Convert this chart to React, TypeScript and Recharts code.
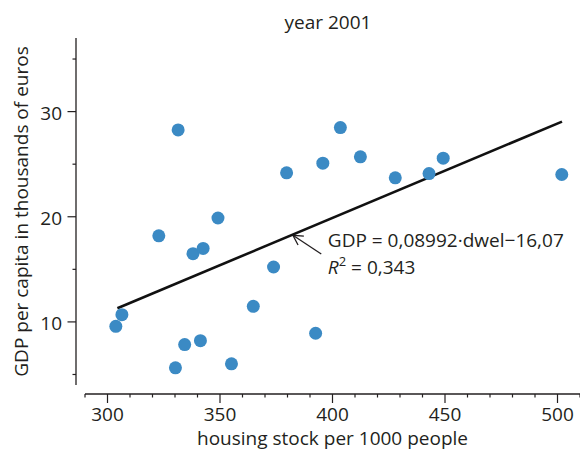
import { Label, ReferenceLine, Scatter, ScatterChart, XAxis, YAxis } from 'recharts';

// housing stock per 1000 people vs GDP per capita (thousands of euros), 2001
const dwellings = [
  303.7, 306.4, 322.8, 331.4, 330.2, 334.3, 338.0, 342.5, 341.3, 349.1, 355.1,
  364.8, 373.8, 379.6, 395.7, 403.5, 412.4, 392.5, 427.9, 442.9, 449.2, 501.9,
];
const gdp = [
  9.58, 10.69, 18.19, 28.26, 5.63, 7.84, 16.49, 16.99, 8.22, 19.88, 6.01,
  11.48, 15.22, 24.18, 25.1, 28.48, 25.7, 8.92, 23.7, 24.11, 25.57, 24.02,
];

// regression line end points
const fitX = [304.4, 502.0];
const fitY = [11.3, 29.05];

// annotation arrow: tail then head (on the fitted line)
const noteX = [395.0, 382.4];
const noteY = [16.46, 18.24];

const xTicks = [290, 300, 310, 320, 330, 340, 350, 360, 370, 380, 390, 400, 410, 420, 430, 440, 450, 460, 470, 480, 490, 500, 510];
const xLabels = [300, 350, 400, 450, 500];
const yTicks = [5, 10, 15, 20, 25, 30, 35];
const yLabels = [10, 20, 30];

const points = dwellings.map((x, i) => ({ x, y: gdp[i] }));
const fitLine = fitX.map((x, i) => ({ x, y: fitY[i] }));

const INK = '#231f20';
const BLUE = '#3b8ac4';
const FONT = '"Open Sans", sans-serif';
const X_PAD = 9;
const Y_PAD = 9;

function XTick({ x, y, payload }: any) {
  const major = xLabels.includes(payload.value);
  return (
    <g>
      <line x1={x} y1={y} x2={x} y2={y + (major ? 9 : 3.5)} stroke={INK} strokeWidth={1.2} />
      {major && (
        <text x={x} y={y + 26.5} textAnchor="middle" fill={INK} fontSize={19} fontFamily={FONT}>
          {payload.value}
        </text>
      )}
    </g>
  );
}

function YTick({ x, y, payload }: any) {
  const major = yLabels.includes(payload.value);
  return (
    <g>
      <line x1={x - (major ? 8.5 : 3.5)} y1={y} x2={x} y2={y} stroke={INK} strokeWidth={1.2} />
      {major && (
        <text x={x - 14} y={y + 8} textAnchor="end" fill={INK} fontSize={19} fontFamily={FONT}>
          {payload.value}
        </text>
      )}
    </g>
  );
}

function XTitle({ viewBox }: any) {
  const cx = viewBox.x + X_PAD + (viewBox.width - X_PAD) / 2;
  return (
    <text x={cx} y={viewBox.y + 51} textAnchor="middle" fill={INK} fontSize={19} fontFamily={FONT}>
      housing stock per 1000 people
    </text>
  );
}

function YTitle({ viewBox }: any) {
  const x = viewBox.x + 12;
  const y = viewBox.y + (viewBox.height - Y_PAD) / 2;
  return (
    <text x={x} y={y} transform={`rotate(-90, ${x}, ${y})`} textAnchor="middle" fill={INK} fontSize={19} fontFamily={FONT}>
      GDP per capita in thousands of euros
    </text>
  );
}

// axis lines sit apart from the data area, shifted out by the axis padding
const yAxisLine = (p: any) => <line x1={p.x1 - X_PAD} y1={p.y1} x2={p.x2 - X_PAD} y2={p.y2} stroke={INK} strokeWidth={1.3} />;
const xAxisLine = (p: any) => <line x1={p.x1} y1={p.y1 + Y_PAD} x2={p.x2} y2={p.y2 + Y_PAD} stroke={INK} strokeWidth={1.3} />;

function ArrowNote(p: any) {
  const { x1, y1, x2, y2 } = p;
  const dx = x2 - x1;
  const dy = y2 - y1;
  const len = Math.hypot(dx, dy);
  const ux = dx / len;
  const uy = dy / len;
  const arm = (a: number) => {
    const c = Math.cos(a);
    const s = Math.sin(a);
    return [x2 - 11 * (ux * c - uy * s), y2 - 11 * (ux * s + uy * c)];
  };
  const [ax, ay] = arm(0.5);
  const [bx, by] = arm(-0.5);
  return (
    <g>
      <line x1={x1} y1={y1} x2={x2} y2={y2} stroke={INK} strokeWidth={1.3} />
      <polyline points={`${ax},${ay} ${x2},${y2} ${bx},${by}`} fill="none" stroke={INK} strokeWidth={1.3} />
      <text x={x1 + 6.6} y={y1 - 6.5} fill={INK} fontSize={19} fontFamily={FONT}>
        GDP = 0,08992·dwel−16,07
      </text>
      <text x={x1 + 6.6} y={y1 + 20.5} fill={INK} fontSize={19} fontFamily={FONT}>
        <tspan fontStyle="italic">R</tspan>
        <tspan dy={-8} fontSize={13}>2</tspan>
        <tspan dy={8}> = 0,343</tspan>
      </text>
    </g>
  );
}

export default function App() {
  return (
    <div style={{ position: 'absolute', left: 0, top: 0, width: 580, height: 450, background: '#fff', fontFamily: FONT }}>
      <ScatterChart width={580} height={450} margin={{ top: 38, right: 0, bottom: 26, left: 16 }}>
        <XAxis
          type="number"
          dataKey="x"
          domain={[290, 510]}
          ticks={xTicks}
          interval={0}
          padding={{ left: X_PAD, right: 0 }}
          axisLine={false}
          tickLine={false}
          tickSize={0}
          tickMargin={0}
          tick={<XTick />}
          height={30}
        >
          <Label content={<XTitle />} />
        </XAxis>
        <YAxis
          type="number"
          dataKey="y"
          domain={[4, 37]}
          ticks={yTicks}
          interval={0}
          padding={{ top: 0, bottom: Y_PAD }}
          axisLine={false}
          tickLine={false}
          tickSize={0}
          tickMargin={0}
          tick={<YTick />}
          width={60}
        >
          <Label content={<YTitle />} />
        </YAxis>
        <ReferenceLine segment={[{ x: 290, y: 4 }, { x: 290, y: 37 }]} shape={yAxisLine} />
        <ReferenceLine segment={[{ x: 290, y: 4 }, { x: 510, y: 4 }]} shape={xAxisLine} />
        <Scatter
          data={fitLine}
          line={{ stroke: '#111', strokeWidth: 2.6 }}
          shape={() => <g />}
          isAnimationActive={false}
        />
        <Scatter
          data={points}
          shape={(p: any) => <circle cx={p.cx} cy={p.cy} r={6.5} fill={BLUE} />}
          isAnimationActive={false}
        />
        <ReferenceLine
          segment={[{ x: noteX[0], y: noteY[0] }, { x: noteX[1], y: noteY[1] }]}
          shape={ArrowNote}
        />
      </ScatterChart>
      <svg width={580} height={450} style={{ position: 'absolute', left: 0, top: 0, pointerEvents: 'none' }}>
        <text x={328} y={29.3} textAnchor="middle" fill={INK} fontSize={19} fontFamily={FONT}>
          year 2001
        </text>
      </svg>
    </div>
  );
}
